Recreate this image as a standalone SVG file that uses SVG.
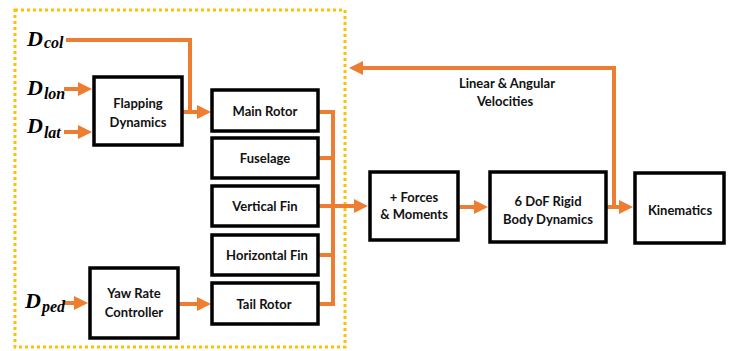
<svg xmlns="http://www.w3.org/2000/svg" width="729" height="351" viewBox="0 0 729 351">
<defs>
<style>
.box{fill:#fff;stroke:#000;stroke-width:3.5}
.lbl{font-family:Lato,"Open Sans","Liberation Sans",sans-serif;font-weight:bold;font-size:13px;fill:#111;text-anchor:middle}
.conn{fill:none;stroke:#ED7D31;stroke-width:4}
.arr{marker-end:url(#ah)}
.d{font-family:"Liberation Serif","DejaVu Serif",serif;font-weight:bold;font-style:italic;font-size:22px;fill:#000}
.sub{font-size:16px}
</style>
<marker id="ah" markerUnits="userSpaceOnUse" viewBox="0 0 14 14" markerWidth="14" markerHeight="14" refX="8" refY="7" orient="auto">
<path d="M0,0 L14,7 L0,14 z" fill="#ED7D31"/>
</marker>
</defs>
<rect width="729" height="351" fill="#fff"/>
<rect id="subsystem-boundary" x="15" y="10" width="330" height="337" fill="none" stroke="#FFC000" stroke-width="3" stroke-dasharray="3,3"/>

<g id="connectors">
<path class="conn arr" d="M66,40 H190 V112 H205"/>
<path class="conn" d="M182,112 H200"/>
<path class="conn arr" d="M64,89 H86"/>
<path class="conn arr" d="M64,132 H86"/>
<path class="conn arr" d="M63,303 H82"/>
<path class="conn arr" d="M179,304 H205"/>
<path class="conn" d="M318,112 H333 M318,158 H333 M318,255 H333 M318,304 H333 M333,110 V306"/>
<path class="conn arr" d="M318,206 H362"/>
<path class="conn arr" d="M458,207 H482"/>
<path class="conn arr" d="M606,207 H627"/>
<path class="conn arr" d="M614,207 V68 H355"/>
</g>

<g id="label-velocities">
<text class="lbl" x="507" y="88">Linear &amp; Angular</text>
<text class="lbl" x="505" y="106">Velocities</text>
</g>

<g id="input-dcol"><text class="d" x="27" y="46">D<tspan class="sub" dx="1" dy="2">col</tspan></text></g>
<g id="input-dlon"><text class="d" x="27" y="95">D<tspan class="sub" dx="1" dy="4">lon</tspan></text></g>
<g id="input-dlat"><text class="d" x="27" y="133">D<tspan class="sub" dx="1" dy="5">lat</tspan></text></g>
<g id="input-dped"><text class="d" x="25" y="308">D<tspan class="sub" dx="1" dy="4">ped</tspan></text></g>

<g id="flapping-dynamics">
<rect class="box" x="94" y="77" width="88" height="68"/>
<text class="lbl" x="138" y="108">Flapping</text>
<text class="lbl" x="138" y="127">Dynamics</text>
</g>
<g id="yaw-rate-controller">
<rect class="box" x="90" y="268" width="88" height="70"/>
<text class="lbl" x="134" y="298">Yaw Rate</text>
<text class="lbl" x="134" y="317">Controller</text>
</g>
<g id="main-rotor">
<rect class="box" x="212" y="90" width="106" height="41"/>
<text class="lbl" x="265" y="116">Main Rotor</text>
</g>
<g id="fuselage">
<rect class="box" x="212" y="138" width="106" height="40"/>
<text class="lbl" x="265" y="163">Fuselage</text>
</g>
<g id="vertical-fin">
<rect class="box" x="212" y="186" width="106" height="40"/>
<text class="lbl" x="265" y="211">Vertical Fin</text>
</g>
<g id="horizontal-fin">
<rect class="box" x="212" y="235" width="106" height="40"/>
<text class="lbl" x="267" y="260">Horizontal Fin</text>
</g>
<g id="tail-rotor">
<rect class="box" x="212" y="283" width="106" height="41"/>
<text class="lbl" x="264" y="309">Tail Rotor</text>
</g>
<g id="forces-moments">
<rect class="box" x="370" y="172" width="88" height="68"/>
<text class="lbl" x="414" y="202">+ Forces</text>
<text class="lbl" x="414" y="219">&amp; Moments</text>
</g>
<g id="rigid-body-dynamics">
<rect class="box" x="490" y="172" width="116" height="70" stroke-width="4"/>
<text class="lbl" x="548" y="206">6 DoF Rigid</text>
<text class="lbl" x="548" y="224">Body Dynamics</text>
</g>
<g id="kinematics">
<rect class="box" x="635" y="173" width="89" height="70"/>
<text class="lbl" x="680" y="215">Kinematics</text>
</g>
</svg>
